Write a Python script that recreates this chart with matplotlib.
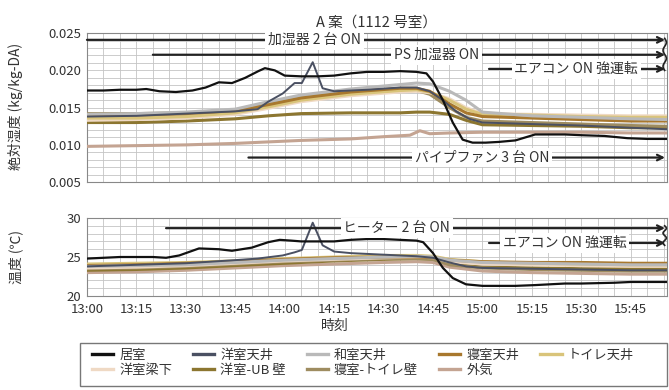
import numpy as np
import matplotlib.pyplot as plt
from matplotlib.patches import Rectangle
from matplotlib.ticker import MultipleLocator, FuncFormatter

plt.rcParams['font.family'] = ['Liberation Sans Narrow', 'Noto Sans CJK JP', 'DejaVu Sans']
plt.rcParams['text.color'] = '#333333'
plt.rcParams['xtick.color'] = '#333333'
plt.rcParams['ytick.color'] = '#333333'

# series names and colours
names = ['居室', '洋室天井', '和室天井', '寝室天井', 'トイレ天井',
         '洋室梁下', '洋室-UB 壁', '寝室-トイレ壁', '外気']
colors = ['#111111', '#4a5062', '#b9b9b9', '#a8782e', '#d9c47a',
          '#efd9c4', '#8c7630', '#9e8c60', '#c4a492']

# time in minutes after 13:00
t_base = [0, 15, 30, 45, 55, 65, 80, 95, 100, 104, 110, 115, 120, 135, 150, 165, 176]

# absolute humidity (kg/kg-DA)
ah_t = {
    '居室': [0, 5, 10, 15, 18, 22, 27, 32, 36, 40, 44, 48, 52, 54, 57, 60, 65, 70, 75, 80,
             85, 90, 95, 100, 103, 105, 108, 111, 114, 117, 121, 125, 130, 136, 145, 150,
             157, 164, 170, 176],
    '洋室天井': [0, 15, 30, 45, 51.8, 55, 59.4, 63, 65.2, 68.5, 71.5, 75, 85, 95, 100, 104,
                108, 112, 116, 120, 135, 150, 165, 176],
    '外気': [0, 15, 30, 45, 55, 65, 80, 90, 98, 101, 104, 110, 120, 135, 150, 165, 176],
}
ah = {
    '居室': [.0173, .0173, .0174, .0174, .0175, .0172, .0171, .0173, .0177, .0184, .0183,
             .0190, .0199, .0203, .0200, .0193, .0192, .0192, .0193, .0196, .0198, .0198,
             .0199, .0198, .0196, .0185, .0160, .0130, .0107, .0103, .0103, .0104, .0106,
             .0114, .0114, .0113, .0112, .0109, .0108, .0108],
    '洋室天井': [.0138, .0139, .0142, .0145, .0148, .0158, .0169, .0183, .0183, .0211, .0176,
                .0172, .0174, .0177, .0177, .0172, .0160, .0145, .0135, .0130, .0128, .0126,
                .0123, .0121],
    '和室天井': [.0141, .0142, .0144, .0148, .0158, .0167, .0175, .0181, .0183, .0182, .0172,
                .0160, .0144, .0139, .0137, .0135, .0134],
    '寝室天井': [.0140, .0140, .0142, .0146, .0154, .0163, .0171, .0176, .0176, .0172, .0155,
                .0143, .0138, .0136, .0134, .0132, .0132],
    'トイレ天井': [.0136, .0136, .0138, .0143, .0151, .0160, .0168, .0173, .0174, .0171, .0160,
                 .0148, .0141, .0140, .0138, .0137, .0137],
    '洋室梁下': [.0133, .0134, .0136, .0141, .0149, .0158, .0166, .0171, .0172, .0170, .0162,
                .0150, .0142, .0141, .0140, .0139, .0139],
    '洋室-UB 壁': [.0130, .0130, .0132, .0135, .0139, .0142, .0143, .0143, .0144, .0144, .0141,
                 .0133, .0127, .0126, .0125, .0123, .0123],
    '寝室-トイレ壁': [.0142, .0142, .0143, .0146, .0156, .0165, .0172, .0175, .0173, .0168,
                  .0150, .0137, .0132, .0130, .0128, .0126, .0125],
    '外気': [.0098, .0099, .0100, .0102, .0104, .0106, .0108, .0111, .0113, .0119, .0115,
             .0116, .0117, .0117, .0117, .0116, .0116],
}

# temperature (°C)
tb_base = [0, 15, 30, 45, 60, 75, 90, 100, 105, 110, 120, 135, 150, 165, 176]
temp_t = {
    '居室': [0, 10, 20, 24, 28, 34, 40, 44, 50, 55, 58.5, 62, 65, 70, 75, 80, 85, 90, 95,
             100, 102, 105, 108, 111, 115, 120, 130, 136, 145, 150, 160, 165, 176],
    '洋室天井': [0, 15, 30, 45, 51.8, 59.4, 63, 65.2, 68.5, 71.5, 75, 80, 90, 100, 105, 110,
                115, 120, 135, 150, 165, 176],
}
temp = {
    '居室': [24.8, 25.0, 25.0, 24.9, 25.2, 26.1, 26.0, 25.8, 26.2, 26.9, 27.2, 27.1, 27.0,
             27.0, 27.0, 27.2, 27.3, 27.3, 27.2, 27.1, 26.9, 25.5, 23.6, 22.3, 21.5, 21.3,
             21.3, 21.4, 21.6, 21.6, 21.7, 21.8, 21.8],
    '洋室天井': [23.8, 24.0, 24.2, 24.6, 24.8, 25.2, 25.6, 25.9, 29.4, 26.5, 25.7, 25.5, 25.3,
                25.1, 24.9, 24.3, 23.8, 23.6, 23.5, 23.4, 23.3, 23.3],
    '和室天井': [23.8, 23.9, 24.0, 24.3, 24.6, 24.8, 25.0, 25.1, 25.0, 24.6, 24.3, 24.2, 24.1,
                24.0, 24.0],
    '寝室天井': [23.9, 24.0, 24.2, 24.4, 24.7, 24.9, 25.0, 25.0, 24.9, 24.6, 24.4, 24.3, 24.3,
                24.2, 24.2],
    'トイレ天井': [24.1, 24.2, 24.3, 24.5, 24.8, 25.0, 25.2, 25.2, 25.1, 24.7, 24.4, 24.2, 24.1,
                 24.0, 24.0],
    '洋室梁下': [23.6, 23.7, 23.9, 24.2, 24.5, 24.7, 24.9, 25.0, 24.9, 24.4, 24.1, 24.0, 23.9,
                23.8, 23.8],
    '洋室-UB 壁': [23.3, 23.4, 23.6, 23.9, 24.2, 24.5, 24.7, 24.8, 24.7, 24.1, 23.7, 23.6, 23.5,
                 23.5, 23.5],
    '寝室-トイレ壁': [23.5, 23.6, 23.8, 24.1, 24.4, 24.6, 24.8, 24.8, 24.7, 24.0, 23.6, 23.4,
                  23.3, 23.2, 23.2],
    '外気': [23.0, 23.1, 23.3, 23.6, 23.9, 24.1, 24.3, 24.4, 24.3, 23.7, 23.2, 23.0, 22.9,
             22.8, 22.8],
}

# equipment events: (label, start minute, level, label position)
ah_events = [('加湿器 2 台 ON', 0, 0.0241, 69),
             ('PS 加湿器 ON', 20, 0.0221, 106),
             ('エアコン ON 強運転', 122, 0.0202, 148.5),
             ('パイプファン 3 台 ON', 49, 0.0083, 120)]
temp_events = [('ヒーター 2 台 ON', 24, 28.7, 94),
               ('エアコン ON 強運転', 122, 26.8, 145)]

x_end = 176
tick_minutes = list(range(0, 166, 15))
tick_labels = ['13:00', '13:15', '13:30', '13:45', '14:00', '14:15',
               '14:30', '14:45', '15:00', '15:15', '15:30', '15:45']

W, H = 669, 390
fig = plt.figure(figsize=(W / 100, H / 100), dpi=100)
ax1 = fig.add_axes([0.130, 0.533, 0.867, 0.382])
ax2 = fig.add_axes([0.130, 0.241, 0.867, 0.200])

draw_order = ['外気', '洋室-UB 壁', '寝室-トイレ壁', '洋室梁下', 'トイレ天井', '寝室天井',
              '和室天井', '洋室天井', '居室']
lw = {'居室': 1.6, '洋室天井': 1.4}

for name in draw_order:
    c = colors[names.index(name)]
    ax1.plot(ah_t.get(name, t_base), ah[name], color=c, lw=lw.get(name, 2.2),
             zorder=3, solid_capstyle='round')
    ax2.plot(temp_t.get(name, tb_base), temp[name], color=c, lw=lw.get(name, 2.2),
             zorder=3, solid_capstyle='round')

for ax in (ax1, ax2):
    ax.set_xlim(0, x_end)
    ax.xaxis.set_major_locator(MultipleLocator(15))
    ax.xaxis.set_minor_locator(MultipleLocator(5))
    ax.grid(True, which='both', color='#c4c4c4', lw=0.6, zorder=0)
    ax.tick_params(which='both', length=0, labelsize=9.5)
    ax.tick_params(axis='y', pad=4)
    ax.tick_params(axis='x', pad=5)
    for s in ax.spines.values():
        s.set_color('#888888')
        s.set_linewidth(0.8)

ax1.set_ylim(0.005, 0.025)
ax1.yaxis.set_major_locator(MultipleLocator(0.005))
ax1.yaxis.set_minor_locator(MultipleLocator(0.001))
ax1.yaxis.set_major_formatter(FuncFormatter(lambda v, p: f'{v:.3f}'))
ax1.tick_params(axis='x', labelbottom=False)

ax2.set_ylim(20, 30)
ax2.yaxis.set_major_locator(MultipleLocator(5))
ax2.yaxis.set_minor_locator(MultipleLocator(1))
ax2.set_xticks(tick_minutes)
ax2.set_xticklabels(tick_labels)


def event_arrow(ax, label, x0, y, xt):
    ax.annotate('', xy=(x_end - 0.6, y), xytext=(x0, y),
                arrowprops=dict(arrowstyle='->', color='#222222', lw=1.6,
                                shrinkA=0, shrinkB=0), zorder=4)
    ax.text(xt, y, label, ha='center', va='center', fontsize=10, zorder=5,
            bbox=dict(facecolor='white', edgecolor='none', pad=2.0))


def break_mark(ax, y0, y1):
    # wavy mark at the right edge where the arrows run past the axis
    yy = np.linspace(y0, y1, 60)
    xx = x_end - 0.7 + 0.5 * np.sin(np.linspace(0, 4 * np.pi, 60))
    ax.plot(xx, yy, color='#222222', lw=1.2, zorder=6, clip_on=False)


for lab, x0, y, xt in ah_events:
    event_arrow(ax1, lab, x0, y, xt)
for lab, x0, y, xt in temp_events:
    event_arrow(ax2, lab, x0, y, xt)
break_mark(ax1, 0.0243, 0.0200)
break_mark(ax2, 29.0, 26.5)

ax1.set_title('A 案（1112 号室）', fontsize=10.5, pad=5)
fig.text(16 / W, 0.726, '絶対湿度 (kg/kg-DA)', rotation=90, ha='center', va='center',
         fontsize=10)
fig.text(16 / W, 0.341, '温度 (℃)', rotation=90, ha='center', va='center', fontsize=10)
fig.text(335 / W, 1 - 326 / H, '時刻', ha='center', va='center', fontsize=10)

# legend, laid out row by row, inside a plain box
handles = [plt.Line2D([], [], color=c, lw=2.4) for c in colors]
order = [0, 5, 1, 6, 2, 7, 3, 8, 4]
leg = fig.legend([handles[i] for i in order], [names[i] for i in order], ncol=5,
                 loc='upper left', bbox_to_anchor=(92 / W, 1 - 349 / H),
                 fontsize=9.5, frameon=False, handlelength=1.6, handletextpad=0.45,
                 borderpad=0, labelspacing=0.15, columnspacing=1.6, borderaxespad=0)
fig.patches.append(Rectangle((80 / W, 1 - 386 / H), 587 / W, 43 / H,
                             transform=fig.transFigure, fill=False,
                             edgecolor='#777777', lw=1.0))

fig.savefig('out.png', dpi=100)
